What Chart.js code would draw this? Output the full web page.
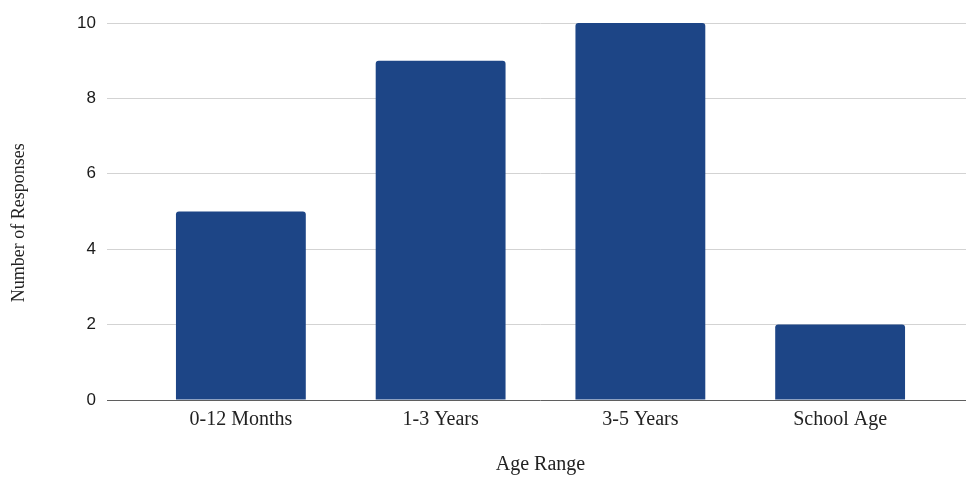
<!DOCTYPE html>
<html>
<head>
<meta charset="utf-8">
<script src="https://cdn.jsdelivr.net/npm/chart.js@4/dist/chart.umd.min.js"></script>
<style>
  html, body { margin: 0; padding: 0; background: #fff; }
  #wrap { width: 966px; height: 477px; }
</style>
</head>
<body>
<div id="wrap"><canvas id="ageChart" width="966" height="477"></canvas></div>
<script>
const categories = ['0-12 Months', '1-3 Years', '3-5 Years', 'School Age'];
const responses = [5, 9, 10, 2];
const yTicks = [0, 2, 4, 6, 8, 10];

const gridColor = (ctx) => (ctx.tick && ctx.tick.value === 0) ? '#5f5f5f' : '#d3d3d3';

new Chart(document.getElementById('ageChart'), {
    type: 'bar',
    data: {
        labels: categories,
        datasets: [{
            label: 'Number of Responses',
            data: responses,
            backgroundColor: '#1d4586',
            borderRadius: { topLeft: 3, topRight: 3 },
            borderSkipped: 'bottom',
            barPercentage: 0.65,
            categoryPercentage: 1.0
        }]
    },
    options: {
        responsive: false,
        animation: false,
        layout: { padding: { top: 23, right: 0, bottom: 0, left: 0 } },
        plugins: { legend: { display: false }, tooltip: { enabled: false } },
        scales: {
            x: {
                grid: { display: false, drawTicks: false },
                border: { display: false },
                ticks: {
                    padding: 8,
                    color: '#222',
                    font: { family: '"Liberation Serif", "Times New Roman", serif', size: 20 }
                },
                title: {
                    display: true,
                    text: 'Age Range',
                    color: '#222',
                    padding: { top: 0, bottom: 0 },
                    font: { family: '"Liberation Serif", "Times New Roman", serif', size: 20 }
                },
                afterFit: (scale) => { scale.height = 77; }
            },
            y: {
                min: yTicks[0],
                max: yTicks[yTicks.length - 1],
                afterBuildTicks: (scale) => { scale.ticks = yTicks.map(v => ({ value: v })); },
                grid: { color: gridColor, tickLength: 34, lineWidth: 1 },
                border: { display: false },
                ticks: {
                    padding: 11,
                    color: '#1a1a1a',
                    font: { family: '"Liberation Sans", Arial, sans-serif', size: 17 }
                },
                title: {
                    display: true,
                    // trailing spaces nudge the rotated title down to match the original
                    text: 'Number of Responses     ',
                    color: '#222',
                    padding: { top: 8, bottom: 0 },
                    font: { family: '"Liberation Serif", "Times New Roman", serif', size: 18 }
                },
                afterFit: (scale) => { scale.width = 141; }
            },
            yRight: {
                position: 'right',
                min: yTicks[0],
                max: yTicks[yTicks.length - 1],
                afterBuildTicks: (scale) => { scale.ticks = yTicks.map(v => ({ value: v })); },
                grid: { color: gridColor, drawOnChartArea: false, tickLength: 26 },
                border: { display: false },
                ticks: { display: false },
                afterFit: (scale) => { scale.width = 26; }
            }
        }
    }
});
</script>
</body>
</html>
